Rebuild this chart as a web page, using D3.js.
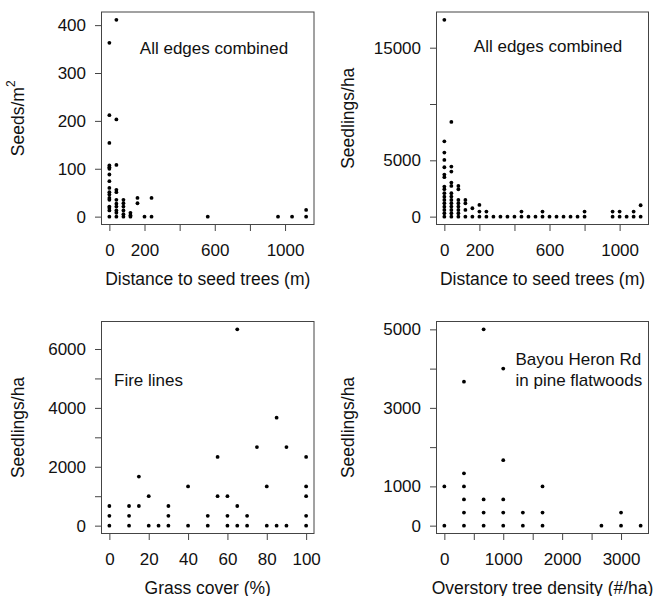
<!DOCTYPE html>
<html>
<head>
<meta charset="utf-8">
<script src="https://cdn.jsdelivr.net/npm/d3@7"></script>
<style>
  body { margin: 0; background: #fff; }
  text { font-family: "Liberation Sans", Arial, sans-serif; fill: #111; }
</style>
</head>
<body>
<svg id="chart" width="653" height="596"></svg>
<script>
// top left: seeds per m2 vs distance (all edges)
var seedDist = [0,0,0,0,0,0,0,0,0,0,0,0,0,0,0,0,0,
                40,40,40,40,40,40,40,40,40,40,40,
                80,80,80,80,80,80, 120,120,120, 160,160, 200, 240,240, 560, 960, 1040, 1120,1120];
var seedCount = [363,212,154,107,103,100,88,74,60,51,46,39,35,21,18,13,0,
                 411,203,108,56,51,35,27,21,13,8,0,
                 35,28,21,13,5,0, 8,3,0, 39,28, 0, 39,0, 0, 0, 0, 14,0];

// top right: seedlings per ha vs distance (all edges)
var seedlingDist = [0,0,0,0,0,0,0,0,0,0,0,0,0,0,0,0,0,
                    40,40,40,40,40,40,40,40,40,40,40,40,40,
                    80,80,80,80,80,80,80,80, 120,120,120,120, 160,160, 200,200,200, 240,240,
                    280, 320, 360, 400, 440,440, 480, 520, 560,560, 600, 640, 680, 720, 760,
                    800,800, 960,960, 1000,1000, 1040, 1080,1080, 1120,1120];
var seedlingDens = [17470,6690,5690,5035,4385,3730,3500,2665,2435,2080,1776,1483,1190,888,595,302,0,
                    8410,4440,4000,3020,2725,2075,1780,1480,1190,890,595,300,0,
                    2725,2430,1480,1190,890,595,300,0, 1480,1190,595,0, 745,0, 1040,445,0, 445,0,
                    0, 0, 0, 0, 445,0, 0, 0, 445,0, 0, 0, 0, 0, 0,
                    445,0, 445,0, 445,0, 0, 445,0, 1010,0];

// bottom left: fire lines, seedlings vs grass cover
var grassCover = [0,0,0, 10,10,10, 15,15, 20,20, 25, 30,30,30, 40,40, 50,50, 55,55, 60,60,60,
                  65,65,65, 70,70, 75, 80,80, 85,85, 90,90, 100,100,100,100,100];
var fireSeedlings = [667,333,0, 667,333,0, 1667,667, 1000,0, 0, 667,333,0, 1333,0, 333,0, 2333,1000, 1000,333,0,
                     6667,667,0, 333,0, 2667, 1333,0, 3667,0, 2667,0, 2333,1333,1000,333,0];

// bottom right: Bayou Heron Rd, seedlings vs overstory density
var treeDensity = [0,0, 333,333,333,333,333,333, 667,667,667,667, 1000,1000,1000,1000,1000,
                   1333,1333, 1667,1667,1667, 2667, 3000,3000, 3333];
var bayouSeedlings = [1000,0, 3667,1333,1000,667,333,0, 5000,667,333,0, 4000,1667,667,333,0,
                      333,0, 1000,333,0, 0, 333,0, 0];

// ticks (R drops some labels that would overlap)
var distTicks = [0,200,400,600,800,1000], distLabels = [0,200,600,1000];
var seedTicks = [0,100,200,300,400], seedLabels = seedTicks;
var seedlingTicks = [0,5000,10000,15000], seedlingLabels = [0,5000,15000];
var grassTicks = [0,20,40,60,80,100], grassLabels = grassTicks;
var fireTicks = [0,1000,2000,3000,4000,5000,6000], fireLabels = [0,2000,4000,6000];
var densTicks = [0,500,1000,1500,2000,2500,3000], densLabels = [0,1000,2000,3000];
var bayouTicks = [0,1000,2000,3000,4000,5000], bayouLabels = [0,1000,3000,5000];

var svg = d3.select("#chart");
var fs = 17;

// R style 4% padding of the data range
function pad(vals) {
  var e = d3.extent(vals), r = e[1] - e[0];
  return [e[0] - 0.04 * r, e[1] + 0.04 * r];
}

function panel(p) {
  var g = svg.append("g").attr("transform", "translate(" + p.left + "," + p.top + ")");
  var w = p.w, h = p.h;
  var x = d3.scaleLinear().domain(pad(p.xs)).range([0, w]);
  var y = d3.scaleLinear().domain(pad(p.ys)).range([h, 0]);

  var xAxis = d3.axisBottom(x).tickValues(p.xt).tickSize(6.5).tickPadding(13).tickSizeOuter(0)
    .tickFormat(function(d) { return p.xl.indexOf(d) >= 0 ? d : ""; });
  var yAxis = d3.axisLeft(y).tickValues(p.yt).tickSize(6.5).tickPadding(9).tickSizeOuter(0)
    .tickFormat(function(d) { return p.yl.indexOf(d) >= 0 ? d : ""; });

  var gx = g.append("g").attr("transform", "translate(0," + h + ")").call(xAxis);
  var gy = g.append("g").call(yAxis);
  [gx, gy].forEach(function(a) {
    a.select(".domain").remove();
    a.selectAll("line").attr("stroke", "#444");
    a.selectAll("text").attr("font-size", fs).attr("fill", "#111")
      .style("font-family", "'Liberation Sans', Arial, sans-serif");
  });

  g.append("rect").attr("width", w).attr("height", h)
    .attr("fill", "none").attr("stroke", "#444").attr("stroke-width", 1);

  g.selectAll("circle.pt").data(p.xs).enter().append("circle")
    .attr("class", "pt")
    .attr("cx", function(d) { return x(d); })
    .attr("cy", function(d, i) { return y(p.ys[i]); })
    .attr("r", 1.9).attr("fill", "#000");

  g.append("text").attr("x", w / 2).attr("y", h + 56)
    .attr("text-anchor", "middle").attr("dominant-baseline", "middle")
    .attr("font-size", 17.5).text(p.xtitle);

  var yt = g.append("text")
    .attr("transform", "translate(" + (p.ytx - p.left) + "," + (h / 2) + ") rotate(-90)")
    .attr("text-anchor", "middle").attr("dominant-baseline", "middle")
    .attr("font-size", 17.5);
  yt.text(p.ytitle);
  if (p.sup) yt.append("tspan").attr("baseline-shift", "super").attr("font-size", 12).text(p.sup);

  p.notes.forEach(function(n) {
    g.append("text").attr("x", n.x - p.left).attr("y", n.y - p.top)
      .attr("text-anchor", n.anchor).attr("dominant-baseline", "middle")
      .attr("font-size", fs).text(n.t);
  });
}

panel({left: 101.5, top: 12, w: 212.5, h: 212.5, xs: seedDist, ys: seedCount,
  xt: distTicks, xl: distLabels, yt: seedTicks, yl: seedLabels,
  xtitle: "Distance to seed trees (m)", ytitle: "Seeds/m", sup: "2", ytx: 19,
  notes: [{x: 214, y: 50, t: "All edges combined", anchor: "middle"}]});

panel({left: 436.5, top: 12, w: 212, h: 212.5, xs: seedlingDist, ys: seedlingDens,
  xt: distTicks, xl: distLabels, yt: seedlingTicks, yl: seedlingLabels,
  xtitle: "Distance to seed trees (m)", ytitle: "Seedlings/ha", ytx: 349,
  notes: [{x: 548, y: 48, t: "All edges combined", anchor: "middle"}]});

panel({left: 101.5, top: 321.5, w: 212.5, h: 212, xs: grassCover, ys: fireSeedlings,
  xt: grassTicks, xl: grassLabels, yt: fireTicks, yl: fireLabels,
  xtitle: "Grass cover (%)", ytitle: "Seedlings/ha", ytx: 19,
  notes: [{x: 114, y: 382, t: "Fire lines", anchor: "start"}]});

panel({left: 436.5, top: 321.5, w: 212, h: 212, xs: treeDensity, ys: bayouSeedlings,
  xt: densTicks, xl: densLabels, yt: bayouTicks, yl: bayouLabels,
  xtitle: "Overstory tree density (#/ha)", ytitle: "Seedlings/ha", ytx: 349,
  notes: [{x: 515.5, y: 361, t: "Bayou Heron Rd", anchor: "start"},
          {x: 515.5, y: 382, t: "in pine flatwoods", anchor: "start"}]});
</script>
</body>
</html>
